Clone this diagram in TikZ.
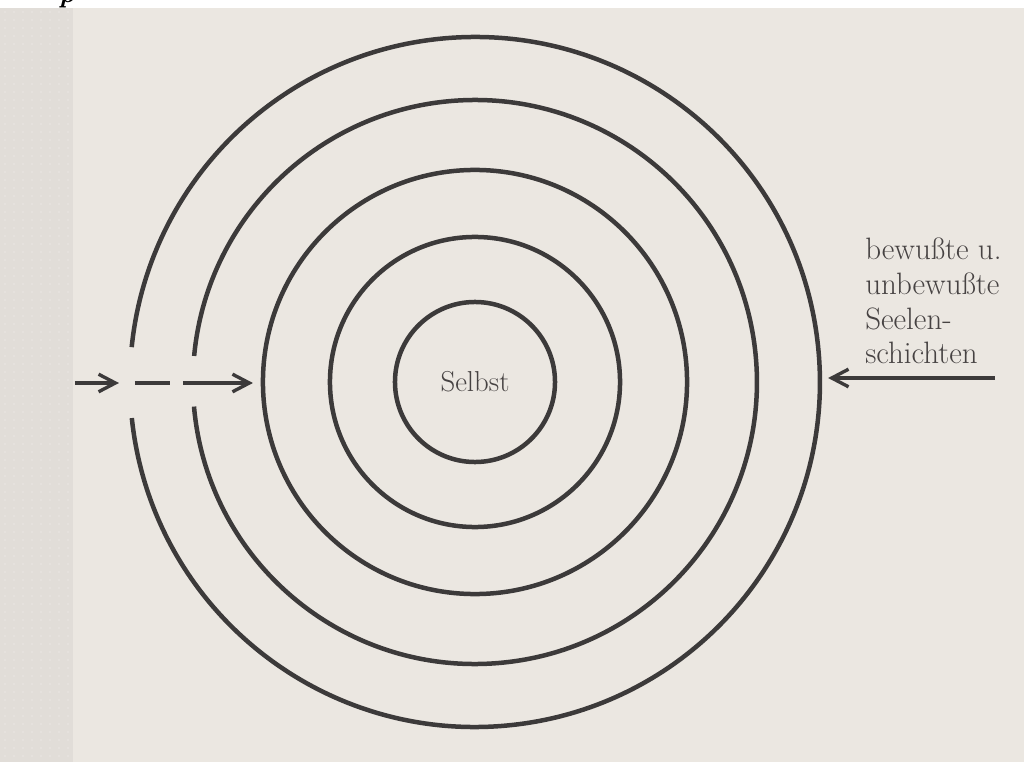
\documentclass[tikz,border=0pt]{standalone}
\usepackage{fontspec}
\usepackage{xcolor}
\usetikzlibrary{arrows.meta,positioning,calc}
\definecolor{ink}{HTML}{3C3A3A}
\definecolor{print}{HTML}{464242}
\definecolor{paper}{HTML}{EBE7E1}
\definecolor{margin}{HTML}{E1DDD8}
\definecolor{speck}{HTML}{F3F1EE}

\begin{document}
\begin{tikzpicture}[
  x=0.025cm, y=0.025cm,
  font=\fontsize{22}{24.8}\selectfont,
  ring/.style={circle,draw=ink,line width=3.2pt,inner sep=0pt,outer sep=0pt},
  hole/.style={circle,inner sep=0pt,outer sep=0pt},
  ringline/.style={draw=ink,line width=3.2pt},
  flow/.style={draw=ink,line width=2.4pt},
  >={Straight Barb[length=4.2mm,width=4.4mm]}]
% page, scan margin and white band
\useasboundingbox (-475,-380) rectangle (549,382);
\fill[paper] (-475,-380) rectangle (549,374);
\fill[white] (-475,374) rectangle (549,382);
\fill[margin] (-475,-380) rectangle (-402,374);
\foreach \i in {0,...,7}
  \foreach \j in {0,...,93}
    \fill[speck] (-470+9*\i,370-8*\j) circle[radius=0.7];
\node[font=\bfseries\itshape\fontsize{20}{20}\selectfont,anchor=base] (pfrag) at (-408,379) {p};
% rings
\node[ring,minimum size=4cm,text=print,font=\fontsize{20.5}{24.8}\selectfont] (s1) at (0,0) {Selbst};
\node[ring,minimum size=7.25cm] (s2) at (0,0) {};
\node[ring,minimum size=10.6cm] (s3) at (0,0) {};
\node[hole,minimum size=14.1cm] (s4) at (0,0) {};
\node[hole,minimum size=17.25cm] (s5) at (0,0) {};
\draw[ringline] (s4.185) arc[start angle=185,end angle=534.7,radius=282];
\draw[ringline] (s5.186) arc[start angle=186,end angle=534.2,radius=345];
% way in from the left
\coordinate (inL) at (-400,-1);
\coordinate (gapA) at (-356,-1);
\coordinate (gapB) at (-340,-1);
\coordinate (gapC) at (-305,-1);
\coordinate (gapD) at (-292,-1);
\draw[flow,->] (inL) -- (gapA);
\draw[flow] (gapB) -- (gapC);
\draw[flow,->,shorten >=0.25cm] (gapD) -- (gapD -| s3.west);
% way in from the right
\coordinate (inR) at (520,4);
\draw[flow,->,shorten >=0.2cm] (inR) -- (inR -| s5.east);
\node[anchor=base west,align=left,inner sep=0pt,text=print] (layers) at (390,18)
  {bewußte u.\\unbewußte\\Seelen-\\schichten};
\end{tikzpicture}
\end{document}
